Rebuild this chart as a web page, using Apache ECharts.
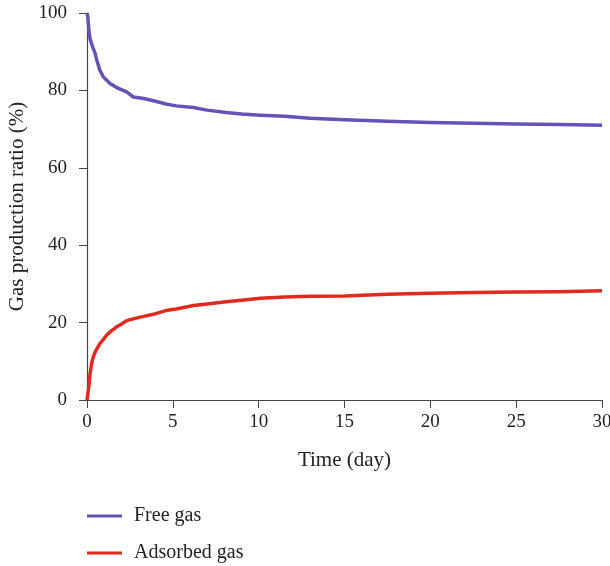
<!DOCTYPE html>
<html>
<head>
<meta charset="utf-8">
<script src="https://cdn.jsdelivr.net/npm/echarts@6/dist/echarts.min.js"></script>
<style>
  html, body { margin: 0; padding: 0; background: #fff; }
  #main { width: 610px; height: 566px; }
</style>
</head>
<body>
<div id="main"></div>
<script>
// time (day) and production ratio (%)
var freeTime = [0, 0.05, 0.1, 0.17, 0.27, 0.35, 0.47, 0.56, 0.75, 0.95, 1.15, 1.34, 1.7, 2.0, 2.31, 2.7, 3.3, 4.0, 4.6, 5.2, 6.2, 7.0, 8.1, 9.0, 10.1, 11.5, 13, 15, 17.5, 20, 22.5, 25, 27.5, 30];
var freeGas = [100, 99, 96, 93.5, 92, 91, 89.6, 88, 85.2, 83.5, 82.6, 81.8, 80.8, 80.2, 79.6, 78.3, 77.9, 77.2, 76.5, 76, 75.6, 74.9, 74.3, 73.9, 73.6, 73.3, 72.8, 72.4, 72, 71.7, 71.5, 71.3, 71.2, 71.0];

var adsTime = [0, 0.08, 0.12, 0.17, 0.27, 0.37, 0.5, 0.76, 1.0, 1.15, 1.4, 1.73, 2.0, 2.31, 2.8, 3.3, 4.0, 4.6, 5.2, 6.2, 7.0, 8.1, 9.0, 10.1, 11.5, 13, 15, 17.5, 20, 22.5, 25, 27.5, 30];
var adsorbedGas = [0, 0.5, 4, 6.5, 9.5, 11.2, 12.6, 14.6, 15.9, 16.8, 17.8, 18.9, 19.6, 20.5, 21.1, 21.6, 22.3, 23.1, 23.5, 24.4, 24.8, 25.4, 25.8, 26.3, 26.6, 26.8, 26.9, 27.3, 27.6, 27.8, 27.9, 28.0, 28.2];

var seriesNames = ['Free gas', 'Adsorbed gas'];

function pairs(xs, ys) {
  var out = [];
  for (var i = 0; i < xs.length; i++) out.push([xs[i], ys[i]]);
  return out;
}

var chart = echarts.init(document.getElementById('main'));
var font = 'Liberation Serif';

// one legend per row so they stack like the picture
function legendRow(name, top) {
  return {
    left: 87,
    top: top,
    padding: 0,
    itemWidth: 35,
    itemHeight: 12,
    itemGap: 0,
    icon: 'path://M0,5 L35,5 L35,8 L0,8 Z',
    textStyle: { fontFamily: font, fontSize: 20, color: '#222', padding: [0, 0, 0, 7] },
    data: [name]
  };
}

chart.setOption({
  backgroundColor: '#fff',
  animation: false,
  grid: { left: 87, top: 13, right: 8, bottom: 166, outerBoundsMode: 'none', containLabel: false },
  legend: [legendRow(seriesNames[0], 506), legendRow(seriesNames[1], 543)],
  xAxis: {
    type: 'value',
    min: 0, max: 30, interval: 5,
    name: 'Time (day)',
    nameLocation: 'middle',
    nameGap: 50,
    nameTextStyle: { fontFamily: font, fontSize: 21, color: '#222' },
    axisLine: { lineStyle: { color: '#444', width: 1.2 } },
    axisTick: { length: 8, lineStyle: { color: '#444' } },
    axisLabel: { fontFamily: font, fontSize: 19, color: '#222', margin: 13 },
    splitLine: { show: false }
  },
  yAxis: {
    type: 'value',
    min: 0, max: 100, interval: 20,
    name: 'Gas production ratio (%)',
    nameLocation: 'middle',
    nameGap: 59,
    nameTextStyle: { fontFamily: font, fontSize: 21, color: '#222' },
    axisLine: { show: true, lineStyle: { color: '#444', width: 1.2 } },
    axisTick: { show: true, length: 8, lineStyle: { color: '#444' } },
    axisLabel: { fontFamily: font, fontSize: 19, color: '#222', margin: 20 },
    splitLine: { show: false }
  },
  series: [
    {
      name: seriesNames[0],
      type: 'line',
      showSymbol: false,
      color: '#6750b6',
      lineStyle: { width: 3.5, color: '#6750b6', join: 'round' },
      data: pairs(freeTime, freeGas)
    },
    {
      name: seriesNames[1],
      type: 'line',
      showSymbol: false,
      color: '#e02a1f',
      lineStyle: { width: 3.5, color: '#e02a1f', join: 'round' },
      data: pairs(adsTime, adsorbedGas)
    }
  ]
});
</script>
</body>
</html>
